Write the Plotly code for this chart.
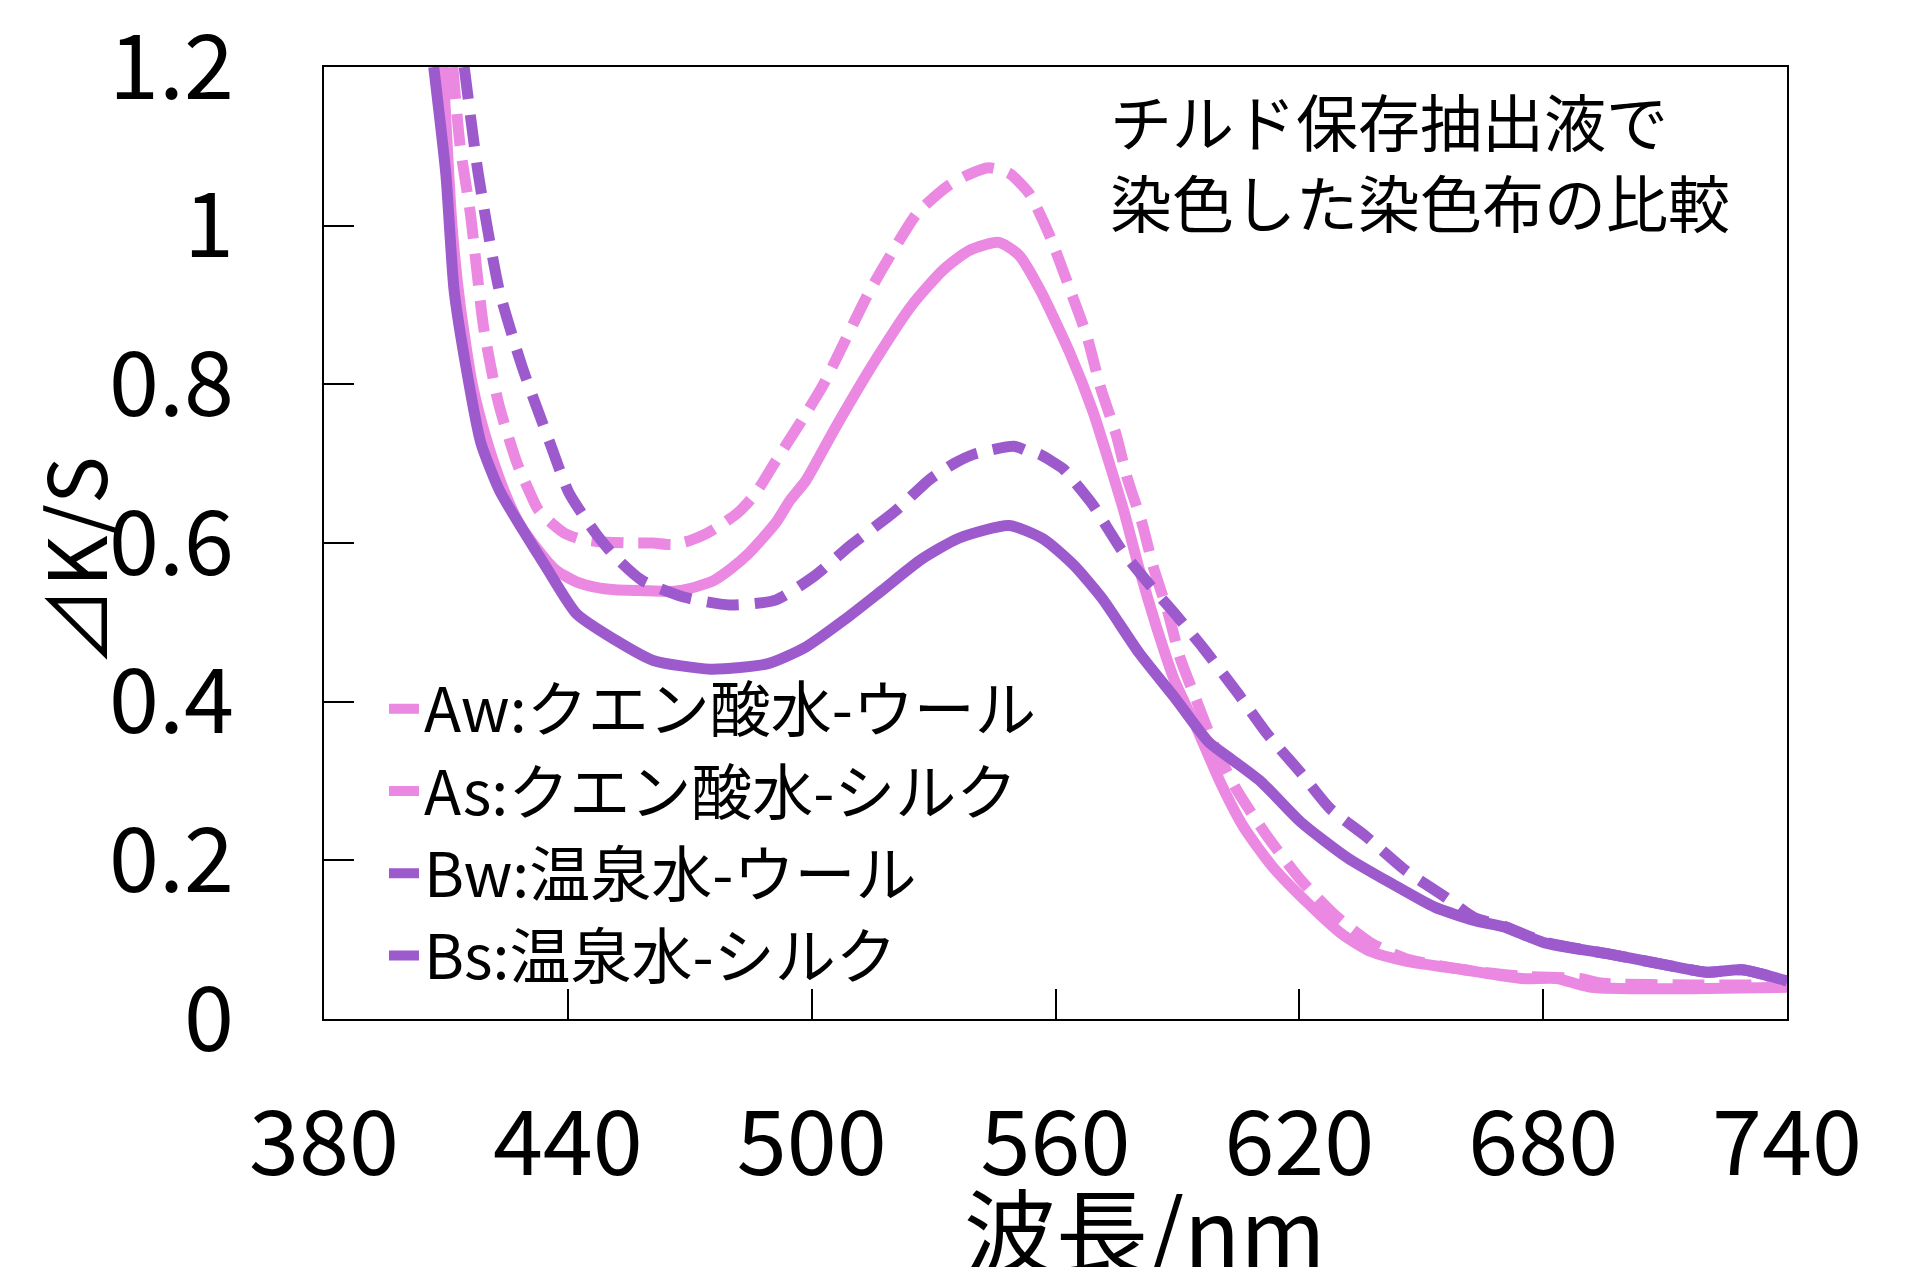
import plotly.graph_objects as go

# ---------------- data ----------------
aw_x = [411.7, 413.5, 416.0, 419.3, 423.0, 427.4, 430.0, 432.7, 436.0, 439.3, 443.0, 447.0, 455.0, 461.0,
        465.6, 470.0, 474.2, 478.0, 481.6, 485.0, 487.3, 491.0, 497.0, 502.8, 508.4, 514.0, 520.0, 526.0,
        533.5, 538.0, 543.6, 548.6, 553.6, 558.6, 563.6, 567.7, 571.2, 574.9, 577.7, 581.3, 584.1, 587.7,
        590.6, 594.8, 599.1, 604.8, 612.0, 620.4, 629.0, 637.6, 646.2, 660.5, 674.7, 689.0, 694.7, 717.0, 740.0]
aw_y = [1.20, 1.10, 1.016, 0.871, 0.775, 0.702, 0.671, 0.642, 0.625, 0.612, 0.605, 0.602, 0.600, 0.600,
        0.598, 0.603, 0.612, 0.624, 0.637, 0.655, 0.671, 0.702, 0.750, 0.799, 0.857, 0.915, 0.968, 1.016,
        1.050, 1.063, 1.073, 1.066, 1.040, 0.987, 0.919, 0.861, 0.794, 0.737, 0.681, 0.625, 0.569, 0.512,
        0.456, 0.400, 0.344, 0.287, 0.231, 0.175, 0.130, 0.096, 0.076, 0.062, 0.054, 0.051, 0.045, 0.043, 0.043]

as_x = [409.3, 411.5, 413.5, 416.5, 420.0, 424.0, 428.0, 432.7, 437.0, 442.1, 447.0, 451.6, 458.0, 465.6,
        470.3, 476.0, 480.0, 484.5, 491.1, 494.7, 498.6, 505.9, 516.0, 524.7, 532.3, 538.5, 546.0, 551.0,
        556.2, 563.5, 569.2, 573.4, 577.0, 580.5, 584.8, 589.2, 594.8, 600.5, 606.3, 613.4, 621.9, 630.5,
        637.6, 646.2, 660.5, 674.7, 683.3, 691.8, 740.0]
as_y = [1.20, 1.00, 0.90, 0.80, 0.73, 0.67, 0.625, 0.591, 0.566, 0.551, 0.544, 0.541, 0.540, 0.539,
        0.543, 0.553, 0.567, 0.587, 0.625, 0.654, 0.679, 0.746, 0.833, 0.900, 0.944, 0.968, 0.979, 0.963,
        0.919, 0.840, 0.766, 0.698, 0.637, 0.569, 0.495, 0.428, 0.366, 0.299, 0.242, 0.192, 0.147, 0.107,
        0.085, 0.073, 0.062, 0.051, 0.051, 0.040, 0.040]

bw_x = [414.5, 418.0, 423.1, 428.7, 435.6, 440.3, 446.9, 451.6, 458.2, 468.5, 479.8, 491.1, 500.6, 509.8,
        520.5, 529.0, 535.0, 540.0, 549.8, 553.5, 556.0, 562.0, 565.0, 569.2, 576.3, 583.4, 589.2, 596.3,
        604.8, 612.0, 620.4, 627.6, 636.2, 646.2, 656.1, 663.0, 670.4, 680.4, 696.0, 710.4, 720.3, 728.9, 740.0]
bw_y = [1.20, 1.064, 0.919, 0.823, 0.726, 0.663, 0.612, 0.583, 0.553, 0.532, 0.522, 0.528, 0.558, 0.598,
        0.640, 0.680, 0.700, 0.712, 0.722, 0.715, 0.712, 0.693, 0.675, 0.648, 0.591, 0.546, 0.512, 0.468,
        0.411, 0.360, 0.310, 0.265, 0.231, 0.187, 0.153, 0.128, 0.117, 0.097, 0.082, 0.068, 0.059, 0.062, 0.048]

bs_x = [407.0, 410.0, 412.0, 414.9, 418.6, 423.3, 429.0, 434.6, 442.1, 451.6, 461.0, 475.1, 489.3, 498.6,
        508.0, 517.5, 526.9, 536.2, 548.6, 557.0, 564.5, 571.5, 580.5, 589.2, 597.7, 603.4, 610.6, 620.4,
        631.9, 643.3, 653.3, 663.2, 670.4, 680.4, 696.1, 710.4, 720.3, 728.9, 740.0]
bs_y = [1.20, 1.064, 0.919, 0.823, 0.726, 0.665, 0.616, 0.570, 0.511, 0.478, 0.452, 0.441, 0.448, 0.469,
        0.503, 0.541, 0.579, 0.606, 0.622, 0.605, 0.572, 0.530, 0.462, 0.406, 0.349, 0.327, 0.299, 0.248,
        0.203, 0.169, 0.141, 0.124, 0.116, 0.096, 0.082, 0.068, 0.059, 0.062, 0.048]

series_names = ["Aw:クエン酸水-ウール", "As:クエン酸水-シルク", "Bw:温泉水-ウール", "Bs:温泉水-シルク"]
x_tick_vals = [380, 440, 500, 560, 620, 680, 740]
y_tick_vals = [0, 0.2, 0.4, 0.6, 0.8, 1.0, 1.2]
y_tick_text = ["0", "0.2", "0.4", "0.6", "0.8", "1", "1.2"]
note_text = "チルド保存抽出液で<br>染色した染色布の比較"
x_title = "波長/nm"
y_title = "⊿K/S"

# ---------------- style ----------------
PINK = "#EA88E2"
PURPLE = "#9C5ACC"
FONT = "Noto Sans CJK JP"
LW = 11

fig = go.Figure()

def add(x, y, name, color, dash, rank):
    fig.add_trace(go.Scatter(
        x=x, y=y, mode="lines", name=name, legendrank=rank,
        line=dict(color=color, width=LW, dash=dash, shape="spline", smoothing=0.6),
        cliponaxis=True,
    ))

# drawing order: As, Aw, Bs, Bw (legend order via legendrank)
add(as_x, as_y, series_names[1], PINK, "solid", 2)
add(aw_x, aw_y, series_names[0], PINK, "32px,15px", 1)
add(bs_x, bs_y, series_names[3], PURPLE, "solid", 4)
add(bw_x, bw_y, series_names[2], PURPLE, "32px,16px", 3)

axis_common = dict(
    showline=True, linecolor="black", linewidth=2, mirror=True,
    ticks="inside", ticklen=30, tickwidth=2, tickcolor="black",
    showgrid=False, zeroline=False, automargin=False,
    ticklabeloverflow="allow",
    tickfont=dict(family=FONT, size=90, color="black"),
)

fig.update_xaxes(
    range=[380, 740], tickmode="array", tickvals=x_tick_vals,
    ticklabelstandoff=46,
    **axis_common,
)
fig.update_yaxes(
    range=[0, 1.2000001], tickmode="array", tickvals=y_tick_vals, ticktext=y_tick_text,
    ticklabelstandoff=70,
    **axis_common,
)

# axis titles (placed as in the reference)
fig.add_annotation(xref="paper", yref="paper", x=0.5605, y=-0.218, xanchor="center", yanchor="middle",
                   text=x_title, showarrow=False,
                   font=dict(family=FONT, size=92, color="black"))
fig.add_annotation(xref="paper", yref="paper", x=-0.1722, y=0.48, xanchor="center", yanchor="middle",
                   text=y_title, showarrow=False, textangle=-90,
                   font=dict(family=FONT, size=80, color="black"))

fig.add_annotation(xref="paper", yref="paper", x=0.536, y=0.902, xanchor="left", yanchor="middle",
                   text=note_text, showarrow=False, align="left",
                   font=dict(family=FONT, size=62, color="black"))

fig.update_layout(
    width=1909, height=1267, autosize=False,
    margin=dict(l=324, r=122, t=67, b=248, autoexpand=False),
    paper_bgcolor="white", plot_bgcolor="white",
    font=dict(family=FONT, color="black"),
    showlegend=True,
    legend=dict(
        x=0.041, y=0.3745, xanchor="left", yanchor="top",
        bgcolor="rgba(0,0,0,0)", borderwidth=0,
        font=dict(family=FONT, size=61, color="black"),
        tracegroupgap=0,
    ),
)

fig.write_html("out.html", config={"displayModeBar": False},
               post_script="document.body.style.margin='0px';")
